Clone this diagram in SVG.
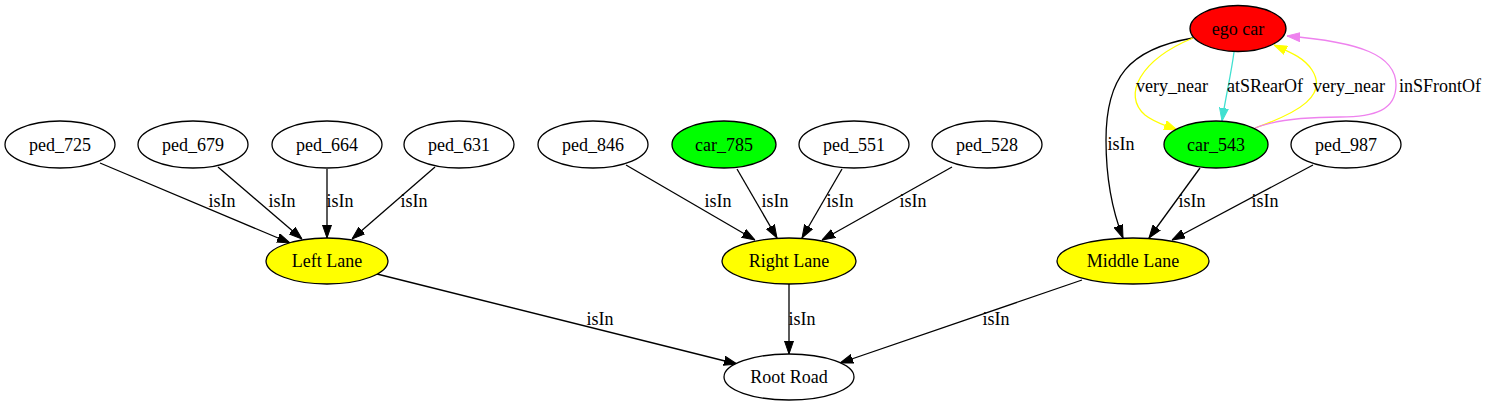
<svg xmlns="http://www.w3.org/2000/svg" width="1487" height="407" viewBox="0 0 1487 407">
<style>
.n ellipse{stroke:#000;stroke-width:1.3}
.w{fill:#fff}.r{fill:#ff0000}.g{fill:#00ff00}.y{fill:#ffff00}
text{font-family:"Liberation Serif","Times New Roman",serif;font-size:18px;fill:#000}
.n text{text-anchor:middle}
.e path{fill:none;stroke-width:1.3}
.k{stroke:#000;marker-end:url(#ak)}
.yl{stroke:#ffff00;marker-end:url(#ay)}
.tq{stroke:#40e0d0;marker-end:url(#at)}
.vi{stroke:#ee82ee;marker-end:url(#av)}
.lbl text{text-anchor:middle}
</style>
<defs>
<marker id="ak" viewBox="0 0 13 10" refX="13" refY="5" markerWidth="13" markerHeight="10" markerUnits="userSpaceOnUse" orient="auto"><path d="M0,0.5L13,5L0,9.5z" fill="#000" stroke="#000"/></marker>
<marker id="ay" viewBox="0 0 13 10" refX="13" refY="5" markerWidth="13" markerHeight="10" markerUnits="userSpaceOnUse" orient="auto"><path d="M0,0.5L13,5L0,9.5z" fill="#ffff00" stroke="#ffff00"/></marker>
<marker id="at" viewBox="0 0 13 10" refX="13" refY="5" markerWidth="13" markerHeight="10" markerUnits="userSpaceOnUse" orient="auto"><path d="M0,0.5L13,5L0,9.5z" fill="#40e0d0" stroke="#40e0d0"/></marker>
<marker id="av" viewBox="0 0 13 10" refX="13" refY="5" markerWidth="13" markerHeight="10" markerUnits="userSpaceOnUse" orient="auto"><path d="M0,0.5L13,5L0,9.5z" fill="#ee82ee" stroke="#ee82ee"/></marker>
</defs>
<rect width="1487" height="407" fill="#fff"/>
<g id="edges" class="e">
<path class="k" d="M100,163L290,243"/>
<path class="k" d="M218,167L302,239"/>
<path class="k" d="M327,169L327,238"/>
<path class="k" d="M435,167L352,239"/>
<path class="k" d="M626,165L755,240"/>
<path class="k" d="M737,169L777,238"/>
<path class="k" d="M842,169L802,238"/>
<path class="k" d="M952,167L822,240"/>
<path class="k" d="M1200,168L1149,238"/>
<path class="k" d="M1313,165L1172,240"/>
<path class="k" d="M1193,38C1128,49 1106,78 1106,140C1106,180 1112,210 1123,238"/>
<path class="yl" d="M1193,38C1140,60 1122,95 1145,115C1155,123 1165,125 1177,130"/>
<path class="tq" d="M1234,52C1231,75 1226,95 1222,121"/>
<path class="yl" d="M1255,128C1300,112 1328,95 1312,70C1304,58 1292,53 1274,45"/>
<path class="vi" d="M1255,128C1275,120 1300,117 1340,117C1375,117 1396,110 1396,85C1396,55 1360,42 1287,36"/>
<path class="k" d="M377,274L737,364"/>
<path class="k" d="M789,284L789,354"/>
<path class="k" d="M1082,280L840,363"/>
<g class="lbl">
<text x="222" y="207">isIn</text>
<text x="282" y="207">isIn</text>
<text x="340" y="207">isIn</text>
<text x="414" y="207">isIn</text>
<text x="718" y="207">isIn</text>
<text x="775" y="207">isIn</text>
<text x="840" y="207">isIn</text>
<text x="913" y="207">isIn</text>
<text x="1192" y="207">isIn</text>
<text x="1265" y="207">isIn</text>
<text x="1121" y="150">isIn</text>
<text x="1172" y="92">very_near</text>
<text x="1265" y="92">atSRearOf</text>
<text x="1349" y="92">very_near</text>
<text x="1440" y="92">inSFrontOf</text>
<text x="600" y="325">isIn</text>
<text x="802" y="325">isIn</text>
<text x="996" y="325">isIn</text>
</g>
</g>
<g id="ego_car" class="n"><ellipse class="r" cx="1238" cy="28.5" rx="48" ry="23"/><text x="1238" y="34.5">ego car</text></g>
<g id="ped_725" class="n"><ellipse class="w" cx="60" cy="144.5" rx="55" ry="23.5"/><text x="60" y="150.5">ped_725</text></g>
<g id="ped_679" class="n"><ellipse class="w" cx="193" cy="144.5" rx="55" ry="23.5"/><text x="193" y="150.5">ped_679</text></g>
<g id="ped_664" class="n"><ellipse class="w" cx="327" cy="144.5" rx="55" ry="23.5"/><text x="327" y="150.5">ped_664</text></g>
<g id="ped_631" class="n"><ellipse class="w" cx="459" cy="144.5" rx="55" ry="23.5"/><text x="459" y="150.5">ped_631</text></g>
<g id="ped_846" class="n"><ellipse class="w" cx="593" cy="144.5" rx="55" ry="23.5"/><text x="593" y="150.5">ped_846</text></g>
<g id="car_785" class="n"><ellipse class="g" cx="724" cy="144.5" rx="52" ry="23.5"/><text x="724" y="150.5">car_785</text></g>
<g id="ped_551" class="n"><ellipse class="w" cx="854" cy="144.5" rx="55" ry="23.5"/><text x="854" y="150.5">ped_551</text></g>
<g id="ped_528" class="n"><ellipse class="w" cx="987" cy="144.5" rx="55" ry="23.5"/><text x="987" y="150.5">ped_528</text></g>
<g id="car_543" class="n"><ellipse class="g" cx="1216" cy="144.5" rx="52" ry="23.5"/><text x="1216" y="150.5">car_543</text></g>
<g id="ped_987" class="n"><ellipse class="w" cx="1346" cy="144.5" rx="55" ry="23.5"/><text x="1346" y="150.5">ped_987</text></g>
<g id="left_lane" class="n"><ellipse class="y" cx="327" cy="261" rx="61" ry="23"/><text x="327" y="267">Left Lane</text></g>
<g id="right_lane" class="n"><ellipse class="y" cx="789" cy="261" rx="67" ry="23"/><text x="789" y="267">Right Lane</text></g>
<g id="middle_lane" class="n"><ellipse class="y" cx="1133" cy="261" rx="76" ry="23"/><text x="1133" y="267">Middle Lane</text></g>
<g id="root_road" class="n"><ellipse class="w" cx="789" cy="377" rx="65" ry="23"/><text x="789" y="383">Root Road</text></g>
</svg>
